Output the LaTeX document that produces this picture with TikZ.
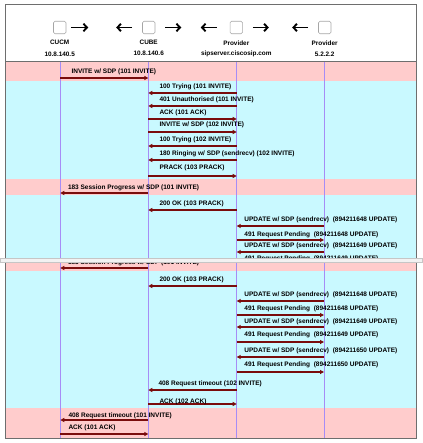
\documentclass[tikz,border=0pt]{standalone}
\usepackage{fontspec}
\setmainfont{Liberation Sans}
\usetikzlibrary{arrows.meta,positioning}
\definecolor{bandpink}{HTML}{FFCCCC}
\definecolor{bandcyan}{HTML}{C9F9FF}
\definecolor{lifecol}{HTML}{A68CF6}
\definecolor{msgred}{HTML}{7A0C0C}
\definecolor{framegray}{HTML}{6E6E6E}

\tikzset{
  lbl/.style={font=\fontsize{6.5}{7}\selectfont\bfseries, anchor=base west, inner sep=0pt},
  hdr/.style={font=\fontsize{6.4}{7}\selectfont\bfseries, inner sep=0pt},
  msg/.style={draw=msgred, line width=1.1pt, -{Triangle[length=4pt,width=4pt]}},
  life/.style={draw=lifecol, line width=0.8pt},
  icon/.style={draw=gray!70, rounded corners=1.5pt, minimum width=12.5pt, minimum height=12.5pt, inner sep=0pt, line width=0.6pt},
  harrow/.style={line width=1.9pt, -{Straight Barb[length=3.5pt,width=7.5pt]}}
}

\begin{document}
\begin{tikzpicture}[x=1pt,y=-1pt]
\useasboundingbox (0,0) rectangle (422,443);

% lifeline positions
\coordinate (cucm) at (60.3,61);
\coordinate (cube) at (148.3,61);
\coordinate (prov) at (236.7,61);
\coordinate (pstn) at (324,61);

% header icons
\node[icon] (cucmbox) at (59.7,27.5) {};
\node[icon] (cubebox) at (148.7,27.5) {};
\node[icon] (provbox) at (236.3,27.5) {};
\node[icon] (pstnbox) at (324.7,27.5) {};
\draw[harrow] ([xshift=5pt]cucmbox.east) -- ++(17,0);
\draw[harrow] ([xshift=-10pt]cubebox.west) -- ++(-16,0);
\draw[harrow] ([xshift=10pt]cubebox.east) -- ++(16,0);
\draw[harrow] ([xshift=-13pt]provbox.west) -- ++(-16,0);
\draw[harrow] ([xshift=10pt]provbox.east) -- ++(16,0);
\draw[harrow] ([xshift=-10pt]pstnbox.west) -- ++(-16,0);

% header labels
\node[hdr] (cucmname) at (cucmbox |- 0,42.7) {CUCM};
\node[hdr] (cucmip) at (cucmbox |- 0,54.3) {10.8.140.5};
\node[hdr] (cubename) at (cubebox |- 0,42) {CUBE};
\node[hdr] (cubeip) at (cubebox |- 0,53.3) {10.8.140.6};
\node[hdr] (provname) at (provbox |- 0,43) {Provider};
\node[hdr] (provip) at (provbox |- 0,54.3) {sipserver.ciscosip.com};
\node[hdr] (pstnname) at (pstnbox |- 0,43) {Provider};
\node[hdr] (pstnip) at (pstnbox |- 0,54.3) {5.2.2.2};

% first capture
\begin{scope}
\clip (0,0) rectangle (422,258.5);
\fill[bandpink] (5,61) rectangle (416.7,81);
\fill[bandcyan] (5,81) rectangle (416.7,179);
\fill[bandpink] (5,179) rectangle (416.7,195);
\fill[bandcyan] (5,195) rectangle (416.7,270);
\foreach \p in {cucm,cube,prov,pstn}
  \draw[life] (\p) -- (\p |- 0,270);

\draw[msg] (cucm |- 0,78) -- (cube |- 0,78);
\node[lbl] (m1) at ([xshift=11pt]cucm |- 0,73.5) {INVITE w/ SDP (101 INVITE)};
\draw[msg] (prov |- 0,93) -- (cube |- 0,93);
\node[lbl] (m2) at ([xshift=11pt]cube |- 0,88.5) {100 Trying (101 INVITE)};
\draw[msg] (prov |- 0,106) -- (cube |- 0,106);
\node[lbl] (m3) at ([xshift=11pt]cube |- 0,102) {401 Unauthorised (101 INVITE)};
\draw[msg] (cube |- 0,119) -- (prov |- 0,119);
\node[lbl] (m4) at ([xshift=11pt]cube |- 0,115) {ACK (101 ACK)};
\draw[msg] (cube |- 0,132) -- (prov |- 0,132);
\node[lbl] (m5) at ([xshift=11pt]cube |- 0,126.5) {INVITE w/ SDP (102 INVITE)};
\draw[msg] (prov |- 0,146) -- (cube |- 0,146);
\node[lbl] (m6) at ([xshift=11pt]cube |- 0,142) {100 Trying (102 INVITE)};
\draw[msg] (prov |- 0,160) -- (cube |- 0,160);
\node[lbl] (m7) at ([xshift=11pt]cube |- 0,155.5) {180 Ringing w/ SDP (sendrecv) (102 INVITE)};
\draw[msg] (cube |- 0,176) -- (prov |- 0,176);
\node[lbl] (m8) at ([xshift=11pt]cube |- 0,169.5) {PRACK (103 PRACK)};
\draw[msg] (cube |- 0,193) -- (cucm |- 0,193);
\node[lbl] (m9) at ([xshift=7.5pt]cucm |- 0,189.5) {183 Session Progress w/ SDP (101 INVITE)};
\draw[msg] (prov |- 0,210) -- (cube |- 0,210);
\node[lbl] (m10) at ([xshift=11pt]cube |- 0,205.5) {200 OK (103 PRACK)};
\draw[msg] (pstn |- 0,226) -- (prov |- 0,226);
\node[lbl] (m11) at ([xshift=7.5pt]prov |- 0,222) {UPDATE w/ SDP (sendrecv)~ (894211648 UPDATE)};
\draw[msg] (prov |- 0,240) -- (pstn |- 0,240);
\node[lbl] (m12) at ([xshift=7.5pt]prov |- 0,236) {491 Request Pending~ (894211648 UPDATE)};
\draw[msg] (pstn |- 0,252) -- (prov |- 0,252);
\node[lbl] (m13) at ([xshift=7.5pt]prov |- 0,247.5) {UPDATE w/ SDP (sendrecv)~ (894211649 UPDATE)};
\node[lbl] (m14) at ([xshift=7.5pt]prov |- 0,260.5) {491 Request Pending~ (894211649 UPDATE)};
\end{scope}

% second capture
\begin{scope}
\clip (0,262.5) rectangle (422,443);
\fill[bandpink] (5,255) rectangle (416.7,271);
\fill[bandcyan] (5,271) rectangle (416.7,408);
\fill[bandpink] (5,408) rectangle (416.7,438.3);
\foreach \p in {cucm,cube,prov,pstn}
  \draw[life] (\p |- 0,255) -- (\p |- 0,438.3);

\draw[msg] (cube |- 0,268) -- (cucm |- 0,268);
\node[lbl] (n1) at ([xshift=7.5pt]cucm |- 0,264.5) {183 Session Progress w/ SDP (101 INVITE)};
\draw[msg] (prov |- 0,286) -- (cube |- 0,286);
\node[lbl] (n2) at ([xshift=11pt]cube |- 0,281.5) {200 OK (103 PRACK)};
\draw[msg] (pstn |- 0,301) -- (prov |- 0,301);
\node[lbl] (n3) at ([xshift=7.5pt]prov |- 0,296.5) {UPDATE w/ SDP (sendrecv)~ (894211648 UPDATE)};
\draw[msg] (prov |- 0,315) -- (pstn |- 0,315);
\node[lbl] (n4) at ([xshift=7.5pt]prov |- 0,310.5) {491 Request Pending~ (894211648 UPDATE)};
\draw[msg] (pstn |- 0,327) -- (prov |- 0,327);
\node[lbl] (n5) at ([xshift=7.5pt]prov |- 0,323.5) {UPDATE w/ SDP (sendrecv)~ (894211649 UPDATE)};
\draw[msg] (prov |- 0,342) -- (pstn |- 0,342);
\node[lbl] (n6) at ([xshift=7.5pt]prov |- 0,336.5) {491 Request Pending~ (894211649 UPDATE)};
\draw[msg] (pstn |- 0,357) -- (prov |- 0,357);
\node[lbl] (n7) at ([xshift=7.5pt]prov |- 0,352.5) {UPDATE w/ SDP (sendrecv)~ (894211650 UPDATE)};
\draw[msg] (prov |- 0,372) -- (pstn |- 0,372);
\node[lbl] (n8) at ([xshift=7.5pt]prov |- 0,366.5) {491 Request Pending~ (894211650 UPDATE)};
\draw[msg] (prov |- 0,390) -- (cube |- 0,390);
\node[lbl] (n9) at ([xshift=10pt]cube |- 0,385.5) {408 Request timeout (102 INVITE)};
\draw[msg] (cube |- 0,404) -- (prov |- 0,404);
\node[lbl] (n10) at ([xshift=11pt]cube |- 0,403) {ACK (102 ACK)};
\draw[msg] (cube |- 0,420) -- (cucm |- 0,420);
\node[lbl] (n11) at ([xshift=8pt]cucm |- 0,417.5) {408 Request timeout (101 INVITE)};
\draw[msg] (cucm |- 0,434) -- (cube |- 0,434);
\node[lbl] (n12) at ([xshift=8pt]cucm |- 0,429.5) {ACK (101 ACK)};
\end{scope}

% frame and seam
\draw[framegray, line width=0.9pt] (5,4) rectangle (416.7,438.3);
\draw[framegray, line width=0.7pt] (5,61) -- (416.7,61);
\filldraw[fill=gray!10, draw=gray!45, line width=0.5pt] (0,258.5) rectangle (422,262.5);
\end{tikzpicture}
\end{document}
